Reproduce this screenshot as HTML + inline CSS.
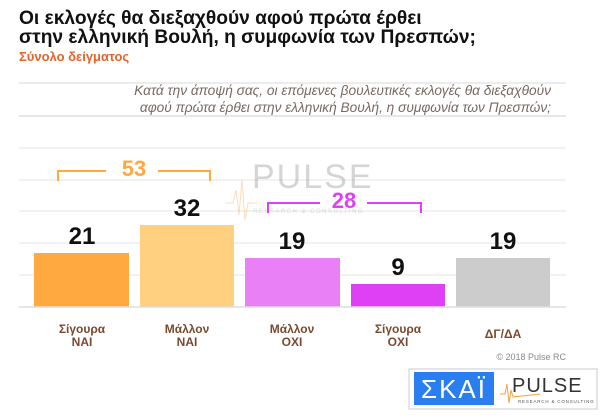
<!DOCTYPE html>
<html><head><meta charset="utf-8"><style>
body{margin:0;width:600px;height:415px;background:#fff;overflow:hidden;font-family:"Liberation Sans",Arial,sans-serif}
</style></head><body>
<svg width="600" height="415" xmlns="http://www.w3.org/2000/svg" font-family="Liberation Sans, Arial, sans-serif">
<text x="19" y="24" font-size="19.2" font-weight="bold" fill="#111">Οι εκλογές θα διεξαχθούν αφού πρώτα έρθει</text>
<text x="19" y="43" font-size="19.2" font-weight="bold" fill="#111">στην ελληνική Βουλή, η συμφωνία των Πρεσπών;</text>
<text x="19" y="61" font-size="13" font-weight="bold" fill="#e8622a">Σύνολο δείγματος</text>
<line x1="19" y1="83" x2="566" y2="83" stroke="#e6e6e6" stroke-width="1.5"/>
<line x1="19" y1="116" x2="566" y2="116" stroke="#ddd" stroke-width="1.5"/>
<text x="551" y="95" font-size="13.7" font-style="italic" fill="#7a6a60" text-anchor="end">Κατά την άποψή σας, οι επόμενες βουλευτικές εκλογές θα διεξαχθούν</text>
<text x="551" y="112" font-size="13.7" font-style="italic" fill="#7a6a60" text-anchor="end">αφού πρώτα έρθει στην ελληνική Βουλή, η συμφωνία των Πρεσπών;</text>
<g stroke="#e6e6e6" stroke-width="1">
<line x1="19" y1="148" x2="566" y2="148"/><line x1="19" y1="180" x2="566" y2="180"/>
<line x1="19" y1="211" x2="566" y2="211"/><line x1="19" y1="243" x2="566" y2="243"/>
<line x1="19" y1="275" x2="566" y2="275"/></g>
<g opacity="0.35"><text x="252" y="188" font-size="34" fill="#888" letter-spacing="2">PULSE</text>
<text x="253" y="213" font-size="6" fill="#999" letter-spacing="1.5">RESEARCH &amp; CONSULTING</text>
<polyline points="225,203 233,203 236,190 239,215 242,180 245,220 248,203 258,203" fill="none" stroke="#f5a040" stroke-width="1"/></g>
<rect x="34" y="253" width="95" height="54" fill="#ffa940"/>
<rect x="140" y="225" width="94" height="82" fill="#ffd080"/>
<rect x="245" y="258" width="95" height="49" fill="#ea80f5"/>
<rect x="351" y="284" width="94" height="23" fill="#e040f5"/>
<rect x="456" y="258" width="94" height="49" fill="#cccccc"/>
<line x1="19" y1="307" x2="566" y2="307" stroke="#ddd" stroke-width="1.5"/>
<g font-size="24" font-weight="bold" fill="#111" text-anchor="middle">
<text x="82" y="244">21</text><text x="187" y="216">32</text><text x="292" y="249">19</text>
<text x="398" y="275">9</text><text x="503" y="249">19</text></g>
<polyline points="58,181 58,171 106,171" fill="none" stroke="#ffa940" stroke-width="2"/>
<polyline points="158,171 210,171 210,181" fill="none" stroke="#ffa940" stroke-width="2"/>
<text x="134" y="176" font-size="22" font-weight="bold" fill="#ffa940" text-anchor="middle">53</text>
<polyline points="268,213 268,203 320,203" fill="none" stroke="#e040f5" stroke-width="2"/>
<polyline points="367,203 421,203 421,213" fill="none" stroke="#e040f5" stroke-width="2"/>
<text x="344" y="208" font-size="22" font-weight="bold" fill="#e040f5" text-anchor="middle">28</text>
<g font-size="12" font-weight="bold" fill="#7a4a30" text-anchor="middle">
<text x="82" y="333">Σίγουρα</text><text x="82" y="346">ΝΑΙ</text>
<text x="187" y="333">Μάλλον</text><text x="187" y="346">ΝΑΙ</text>
<text x="292" y="333">Μάλλον</text><text x="292" y="346">ΟΧΙ</text>
<text x="398" y="333">Σίγουρα</text><text x="398" y="346">ΟΧΙ</text>
<text x="503" y="338">ΔΓ/ΔΑ</text></g>
<text x="566" y="360" font-size="9" fill="#888" text-anchor="end">© 2018 Pulse RC</text>
<rect x="409" y="369" width="188" height="40" fill="#fff" stroke="#ccc"/>
<rect x="414" y="372" width="80" height="33" fill="#2a7ff0"/>
<text x="454" y="398" font-size="26" fill="#fff" text-anchor="middle" letter-spacing="2">ΣΚΑΪ</text>
<polyline points="500,394 505,394 507,384 509,403 511,390 513,397 540,394" fill="none" stroke="#f5a040" stroke-width="1"/>
<text x="512" y="392" font-size="20" fill="#333" letter-spacing="1">PULSE</text>
<text x="518" y="403" font-size="4.5" fill="#555" letter-spacing="0.8">RESEARCH &amp; CONSULTING</text>
</svg>
</body></html>
